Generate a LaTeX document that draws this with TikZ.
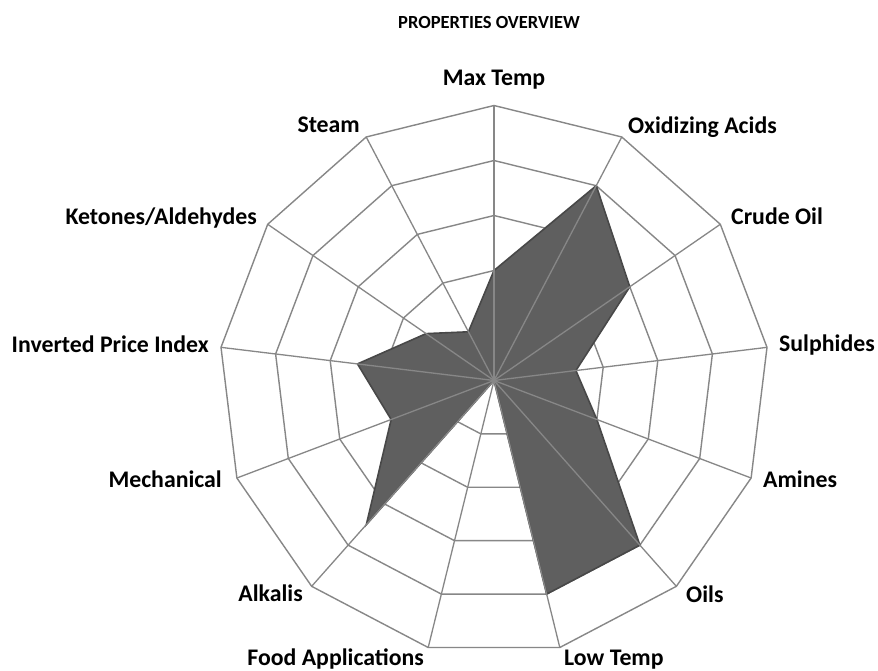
\documentclass[tikz,border=0pt]{standalone}
\usepackage{fontspec}
\setmainfont{Carlito}
\definecolor{gridgray}{HTML}{878787}
\definecolor{datafill}{HTML}{5F5F5F}
\definecolor{dataedge}{HTML}{484848}
\tikzset{
  gridline/.style={draw=gridgray, line width=1.4pt},
  spokeline/.style={draw=gridgray, line width=1.3pt},
  valueaxis/.style={draw=gridgray, line width=2pt},
  dataarea/.style={fill=datafill, draw=dataedge, line width=1.6pt, line join=miter},
  catlabel/.style={font=\fontsize{23.8}{28}\selectfont\bfseries, inner sep=0pt, text=black},
  titlelabel/.style={font=\fontsize{18.5}{22}\selectfont\bfseries, inner sep=0pt, text=black}
}
\begin{document}
\begin{tikzpicture}[x=1pt,y=1pt]
\useasboundingbox (0,0) rectangle (878,671);
\fill[white] (0,0) rectangle (878,671);
\begin{scope}[shift={(494,290.5)}]
  % rings
  \foreach \r in {1,...,5}{
    \draw[gridline] plot[samples at={0,...,12}] ({\r*55*cos(90-\x*360/13)},{\r*55*sin(90-\x*360/13)}) -- cycle;
  }
  % data points
  \foreach \v [count=\k from 0] in {2,4,3,1.5,2,4,4,0,3.5,2,2.5,1.5,1}{
    \coordinate (p\k) at ({90-\k*360/13}:{\v*55});
  }
  \draw[dataarea] (p0) -- (p1) -- (p2) -- (p3) -- (p4) -- (p5) -- (p6) -- (p7) -- (p8) -- (p9) -- (p10) -- (p11) -- (p12) -- cycle;
  % spokes
  \coordinate (c) at (0,0);
  \foreach \k in {1,...,12}{
    \draw[spokeline] (c) -- ({90-\k*360/13}:275);
  }
  \draw[valueaxis] (c) -- (0,275);
\end{scope}
% labels
\node[titlelabel, anchor=base] (title) at (489,642.5) {PROPERTIES OVERVIEW};
\node[catlabel, anchor=base] (l0) at (494,585) {Max Temp};
\node[catlabel, anchor=base west] (l1) at (628,537) {Oxidizing Acids};
\node[catlabel, anchor=base west] (l2) at (731,446) {Crude Oil};
\node[catlabel, anchor=base west] (l3) at (779,319) {Sulphides};
\node[catlabel, anchor=base west] (l4) at (763,183) {Amines};
\node[catlabel, anchor=base west] (l5) at (686,68) {Oils};
\node[catlabel, anchor=base west] (l6) at (564,5) {Low Temp};
\node[catlabel, anchor=base east] (l7) at (424,5) {Food Applications};
\node[catlabel, anchor=base east] (l8) at (303,69) {Alkalis};
\node[catlabel, anchor=base east] (l9) at (222,183) {Mechanical};
\node[catlabel, anchor=base east] (l10) at (209,318) {Inverted Price Index};
\node[catlabel, anchor=base east] (l11) at (257,446) {Ketones/Aldehydes};
\node[catlabel, anchor=base east] (l12) at (360,538) {Steam};
\end{tikzpicture}
\end{document}
